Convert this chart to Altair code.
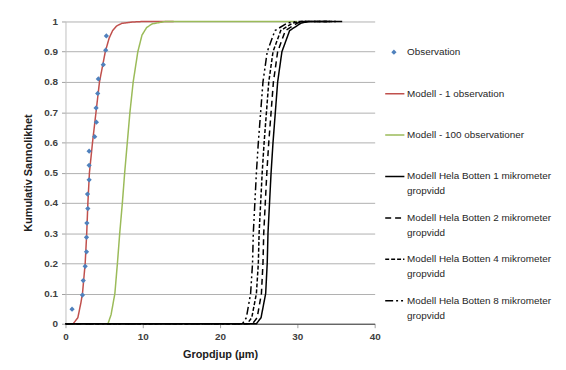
import altair as alt
import pandas as pd

# ---- data ----
obs_x = [0.85, 2.2, 2.3, 2.55, 2.72, 2.72, 2.77, 2.89, 2.85, 3.06,
         3.06, 3.06, 3.78, 4.0, 3.96, 4.17, 4.25, 4.89, 5.2, 5.29]
obs_y = [0.048, 0.095, 0.143, 0.19, 0.238, 0.286, 0.333, 0.381, 0.429, 0.476,
         0.524, 0.571, 0.619, 0.667, 0.714, 0.762, 0.81, 0.857, 0.905, 0.952]

red_x = [1.0, 1.6, 2.0, 2.2, 2.55, 2.75, 2.9, 3.1, 3.5, 3.95, 4.4, 5.15, 5.65, 6.1, 6.6, 7.3, 8.6, 10.0, 14.0]
red_y = [0.0, 0.02, 0.07, 0.1, 0.2, 0.3, 0.4, 0.5, 0.6, 0.7, 0.8, 0.9, 0.945, 0.97, 0.985, 0.994, 0.998, 1.0, 1.0]

green_x = [5.5, 5.9, 6.39, 6.72, 7.02, 7.36, 7.66, 8.0, 8.34, 8.76, 9.36, 9.9, 10.5, 11.2, 12.9, 30.0]
green_y = [0.0, 0.03, 0.1, 0.2, 0.3, 0.4, 0.5, 0.6, 0.7, 0.8, 0.9, 0.955, 0.98, 0.992, 1.0, 1.0]

black_y = [0.0, 0.0, 0.02, 0.1, 0.2, 0.3, 0.4, 0.5, 0.6, 0.7, 0.8, 0.9, 0.97, 0.995, 1.0, 1.0]
b1_x = [0.0, 24.7, 25.3, 25.9, 26.1, 26.2, 26.4, 26.6, 26.85, 27.15, 27.45, 28.0, 29.0, 30.5, 31.5, 35.8]
b2_x = [0.0, 24.2, 24.8, 25.35, 25.55, 25.65, 25.85, 26.05, 26.3, 26.6, 26.9, 27.45, 28.45, 30.0, 31.0, 35.0]
b4_x = [0.0, 23.5, 24.1, 24.7, 24.95, 25.05, 25.25, 25.45, 25.7, 26.0, 26.3, 26.85, 27.85, 29.4, 30.5, 34.5]
b8_x = [0.0, 22.9, 23.4, 23.95, 24.2, 24.3, 24.5, 24.7, 24.95, 25.25, 25.55, 26.1, 27.1, 28.7, 30.0, 34.0]

series_names = ["Modell - 1 observation", "Modell - 100 observationer",
                "Modell Hela Botten 1 mikrometer gropvidd",
                "Modell Hela Botten 2 mikrometer gropvidd",
                "Modell Hela Botten 4 mikrometer gropvidd",
                "Modell Hela Botten 8 mikrometer gropvidd"]
series_colors = ["#C0504D", "#9BBB59", "#000000", "#000000", "#000000", "#000000"]
series_dash = [[1, 0], [1, 0], [1, 0], [6, 4], [4, 2], [8, 3, 2, 3, 2, 3]]

legend_line1 = ["Observation", "Modell - 1 observation", "Modell - 100 observationer",
                "Modell Hela Botten 1 mikrometer", "Modell Hela Botten 2 mikrometer",
                "Modell Hela Botten 4 mikrometer", "Modell Hela Botten 8 mikrometer"]
legend_line2 = ["", "", "", "gropvidd", "gropvidd", "gropvidd", "gropvidd"]

y_ticks = [0, 0.1, 0.2, 0.3, 0.4, 0.5, 0.6, 0.7, 0.8, 0.9, 1]
x_ticks = [0, 10, 20, 30, 40]

# ---- tables ----
rows = []
for name, xs_, ys_ in zip(series_names,
                          [red_x, green_x, b1_x, b2_x, b4_x, b8_x],
                          [red_y, green_y, black_y, black_y, black_y, black_y]):
    for i, (xv, yv) in enumerate(zip(xs_, ys_)):
        rows.append({"series": name, "x": xv, "y": yv, "i": i})
curves = pd.DataFrame(rows)
obs = pd.DataFrame({"x": obs_x, "y": obs_y})

FONT = "Liberation Sans"
xs = alt.Scale(domain=[0, 40], nice=False)
ys = alt.Scale(domain=[0, 1], nice=False)
col = alt.Scale(domain=series_names, range=series_colors)
dash = alt.Scale(domain=series_names, range=series_dash)

x_axis = alt.Axis(
    values=x_ticks, title="Gropdjup (µm)", grid=False, domainColor="#404040",
    tickColor="#a0a0a0", tickSize=4, labelFont=FONT, labelFontSize=10,
    labelFontWeight="bold", labelColor="#404040", titleFont=FONT,
    titleFontSize=11, titleFontWeight="bold", titleColor="#202020",
    titlePadding=7, labelPadding=4, labelOverlap=False, labelFlush=False)
y_axis = alt.Axis(
    values=y_ticks, format="~g", title="Kumulativ Sannolikhet", grid=True,
    gridColor="#b0b0b0", domainColor="#c0c0c0", tickColor="#a0a0a0",
    tickSize=4, labelFont=FONT, labelFontSize=10, labelFontWeight="bold",
    labelColor="#404040", titleFont=FONT, titleFontSize=11,
    titleFontWeight="bold", titleColor="#202020", titlePadding=10,
    labelPadding=4, labelOverlap=False, labelFlush=False)

lines = alt.Chart(curves).mark_line(strokeWidth=1.5).encode(
    x=alt.X("x:Q", scale=xs, axis=x_axis),
    y=alt.Y("y:Q", scale=ys, axis=y_axis),
    color=alt.Color("series:N", scale=col, legend=None),
    strokeDash=alt.StrokeDash("series:N", scale=dash, legend=None),
    order="i:Q",
)
points = alt.Chart(obs).mark_point(shape="diamond", filled=True, size=28,
                                   color="#4F81BD", opacity=1).encode(
    x=alt.X("x:Q", scale=xs, axis=x_axis),
    y=alt.Y("y:Q", scale=ys, axis=y_axis))

main = alt.layer(lines, points).properties(width=312, height=305)

# ---- legend panel ----
leg = pd.DataFrame({
    "idx": list(range(7)),
    "line1": legend_line1,
    "line2": legend_line2,
    "series": ["Observation"] + series_names,
})
leg_lines = leg[leg["idx"] > 0]
lx = alt.Scale(domain=[0, 1], nice=False)
ly = alt.Scale(domain=[-0.742, 6.555], nice=False, reverse=True)

sym = alt.Chart(leg_lines).mark_rule(strokeWidth=1.5).encode(
    x=alt.X("a:Q", scale=lx, axis=None), x2="b:Q",
    y=alt.Y("idx:Q", scale=ly, axis=None),
    color=alt.Color("series:N", scale=col, legend=None),
    strokeDash=alt.StrokeDash("series:N", scale=dash, legend=None),
).transform_calculate(a="0.015", b="0.125")
dot = alt.Chart(leg[leg["idx"] == 0]).mark_point(
    shape="diamond", filled=True, size=28, color="#4F81BD", opacity=1).encode(
    x=alt.X("a:Q", scale=lx, axis=None),
    y=alt.Y("idx:Q", scale=ly, axis=None),
).transform_calculate(a="0.065")
t1 = alt.Chart(leg).mark_text(align="left", baseline="middle", font=FONT,
                              fontSize=10, color="#262626").encode(
    x=alt.X("a:Q", scale=lx, axis=None),
    y=alt.Y("idx:Q", scale=ly, axis=None),
    text="line1:N",
).transform_calculate(a="0.14")
t2 = alt.Chart(leg).mark_text(align="left", baseline="middle", font=FONT,
                              fontSize=10, color="#262626", dy=15).encode(
    x=alt.X("a:Q", scale=lx, axis=None),
    y=alt.Y("idx:Q", scale=ly, axis=None),
    text="line2:N",
).transform_calculate(a="0.14")
legend = alt.layer(sym, dot, t1, t2).properties(width=176, height=305)

chart = alt.hconcat(main, legend, spacing=0).properties(
    padding={"top": 6, "left": 14, "right": 0, "bottom": 0},
    background="white",
).configure_view(stroke="transparent")

chart.save("out.html", embed_options={"renderer": "svg", "actions": False})
